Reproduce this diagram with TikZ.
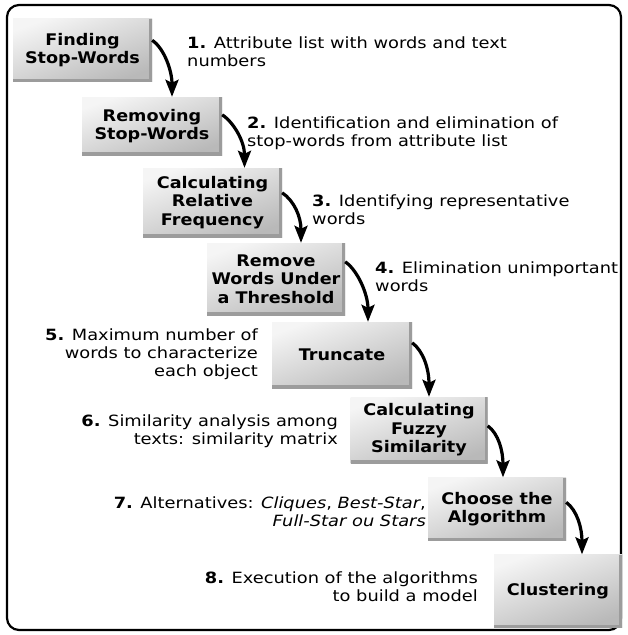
\documentclass[tikz,border=0pt]{standalone}
\usepackage{fontspec}
\setmainfont{DejaVu Sans}[FakeStretch=1.15]
\newfontfamily\boxfont{DejaVu Sans}[FakeStretch=1.1]
\usetikzlibrary{arrows.meta}
\begin{document}
\begin{tikzpicture}[x=1pt,y=-1pt,
  stepbox/.style={inner sep=0pt, align=center,
    font=\boxfont\fontsize{16}{18.5}\selectfont\bfseries,
    top color=gray!8, bottom color=gray!55, shading angle=20,
    path picture={\draw[line width=6pt, gray!78]
      (path picture bounding box.north east) --
      (path picture bounding box.south east) --
      (path picture bounding box.south west);}},
  lbl/.style={inner sep=0pt, font=\fontsize{15.5}{18}\selectfont},
  lleft/.style={lbl, anchor=north west, align=left},
  lright/.style={lbl, anchor=north east, align=right},
  conn/.style={line width=3.2pt, -{Stealth[length=17pt,width=13pt,inset=3pt]}}]
\useasboundingbox (0,0) rectangle (627,635);
\draw[line width=2.2pt, rounded corners=12pt] (7,5) rectangle (621,630);

\node[stepbox, minimum width=139pt, minimum height=63pt] (b1) at (82.5,50) {Finding\\Stop-Words};
\node[stepbox, minimum width=140pt, minimum height=58pt] (b2) at (152,126) {Removing\\Stop-Words};
\node[stepbox, minimum width=139pt, minimum height=69pt] (b3) at (212.5,202.5) {Calculating\\Relative\\Frequency};
\node[stepbox, minimum width=138pt, minimum height=72pt] (b4) at (276,279) {Remove\\Words Under\\a Threshold};
\node[stepbox, minimum width=140pt, minimum height=66pt] (b5) at (342,355) {Truncate};
\node[stepbox, minimum width=137pt, minimum height=66pt] (b6) at (419,430) {Calculating\\Fuzzy\\Similarity};
\node[stepbox, minimum width=138pt, minimum height=63pt] (b7) at (497,509) {Choose the\\Algorithm};
\node[stepbox, minimum width=128pt, minimum height=73pt] (b8) at (558,591) {Clustering};

\draw[conn] ([yshift=-22pt]b1.north east) .. controls +(12,8) and +(0,-26) .. ([xshift=20pt]b2.north);
\draw[conn] ([yshift=-18pt]b2.north east) .. controls +(12,8) and +(0,-26) .. ([xshift=32pt]b3.north);
\draw[conn] ([yshift=-25pt]b3.north east) .. controls +(12,8) and +(0,-26) .. ([xshift=25pt]b4.north);
\draw[conn] ([yshift=-19pt]b4.north east) .. controls +(12,8) and +(0,-28) .. ([xshift=26pt]b5.north);
\draw[conn] ([yshift=-21pt]b5.north east) .. controls +(11,8) and +(0,-28) .. ([xshift=10pt]b6.north);
\draw[conn] ([yshift=-29pt]b6.north east) .. controls +(11,8) and +(0,-26) .. ([xshift=6pt]b7.north);
\draw[conn] ([yshift=-25pt]b7.north east) .. controls +(11,8) and +(0,-26) .. ([xshift=24pt]b8.north);

\node[lleft] (t1) at (187,37) {\textbf{1.} Attribute list with words and text\\numbers};
\node[lleft] (t2) at (247,117) {\textbf{2.} Identification and elimination of\\stop-words from attribute list};
\node[lleft] (t3) at (312,195) {\textbf{3.} Identifying representative\\words};
\node[lleft] (t4) at (375,262) {\textbf{4.} Elimination unimportant\\words};
\node[lright] (t5) at (258,329) {\textbf{5.} Maximum number of\\words to characterize\\each object};
\node[lright] (t6) at (338,415) {\textbf{6.} Similarity analysis among\\texts: similarity matrix};
\node[lright] (t7) at (426,497) {\textbf{7.} Alternatives: \textit{Cliques}, \textit{Best-Star},\\\textit{Full-Star ou Stars}};
\node[lright] (t8) at (478,572) {\textbf{8.} Execution of the algorithms\\to build a model};
\end{tikzpicture}
\end{document}
